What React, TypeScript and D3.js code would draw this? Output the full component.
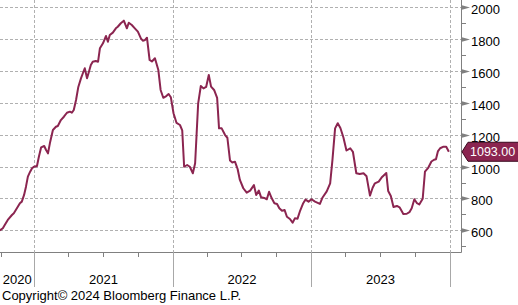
import React from 'react';
import * as d3 from 'd3';

const dates = [
  '2020-10-02','2020-10-10','2020-10-15','2020-10-23','2020-11-03','2020-11-08','2020-11-16','2020-11-24','2020-11-29',
  '2020-12-05','2020-12-10','2020-12-15','2020-12-21','2020-12-26','2020-12-31',
  '2021-01-08','2021-01-13','2021-01-19','2021-01-27','2021-02-01','2021-02-06','2021-02-11','2021-02-19','2021-02-27',
  '2021-03-04','2021-03-12','2021-03-20','2021-03-28','2021-04-05','2021-04-10','2021-04-15','2021-04-21','2021-04-27',
  '2021-05-04','2021-05-09','2021-05-14','2021-05-20','2021-05-25','2021-05-30','2021-06-04','2021-06-12','2021-06-18',
  '2021-06-23','2021-07-01','2021-07-09','2021-07-14','2021-07-19','2021-07-27','2021-08-04','2021-08-09','2021-08-17',
  '2021-08-25','2021-09-02','2021-09-07','2021-09-15','2021-09-23','2021-10-01','2021-10-09','2021-10-14','2021-10-20',
  '2021-10-25','2021-11-01','2021-11-07','2021-11-15','2021-11-24','2021-11-30','2021-12-07','2021-12-15','2021-12-21',
  '2021-12-27',
  '2022-01-03','2022-01-11','2022-01-20','2022-01-26','2022-01-31','2022-02-08','2022-02-15','2022-02-23','2022-03-01',
  '2022-03-05','2022-03-09','2022-03-16','2022-03-23','2022-03-30','2022-04-06','2022-04-12','2022-04-20','2022-04-28',
  '2022-05-03','2022-05-10','2022-05-19','2022-05-25','2022-06-01','2022-06-07','2022-06-14','2022-06-21','2022-06-27',
  '2022-07-06','2022-07-15','2022-07-24','2022-08-03','2022-08-09','2022-08-16','2022-08-22','2022-08-30','2022-09-06',
  '2022-09-12','2022-09-19','2022-09-26','2022-10-03','2022-10-09','2022-10-16','2022-10-23','2022-10-29','2022-11-06',
  '2022-11-13','2022-11-19','2022-11-26','2022-12-03','2022-12-11','2022-12-17','2022-12-25',
  '2023-01-02','2023-01-11','2023-01-24','2023-01-31','2023-02-11','2023-02-20','2023-02-26','2023-03-05','2023-03-12',
  '2023-03-19','2023-03-27','2023-04-04','2023-04-14','2023-04-21','2023-04-30','2023-05-09','2023-05-19','2023-05-27',
  '2023-06-05','2023-06-12','2023-06-18','2023-06-28','2023-07-07','2023-07-18','2023-07-23','2023-07-30','2023-08-06',
  '2023-08-15','2023-08-22','2023-09-01','2023-09-10','2023-09-17','2023-09-23','2023-09-30','2023-10-07','2023-10-13',
  '2023-10-22','2023-10-28','2023-11-06','2023-11-14','2023-11-21','2023-11-26','2023-12-01','2023-12-07','2023-12-16',
  '2023-12-23','2023-12-30',
];

const values = [
  599, 613, 633, 665, 696, 707, 738, 770, 780,
  822, 874, 937, 968, 989, 999,
  1004, 1062, 1121, 1129, 1104, 1083, 1146, 1230, 1250,
  1255, 1292, 1313, 1338, 1345, 1338, 1355, 1418, 1500,
  1554, 1586, 1617, 1554, 1596, 1638, 1658, 1663, 1658,
  1743, 1774, 1820, 1784, 1826, 1841, 1868, 1878, 1900,
  1916, 1868, 1903, 1889, 1868, 1847, 1805, 1790, 1795,
  1809, 1669, 1660, 1680, 1606, 1481, 1432, 1443, 1456,
  1435,
  1335, 1274, 1261, 1227, 999, 1010, 999, 958, 1021,
  1209, 1397, 1506, 1491, 1500, 1575, 1502, 1481, 1431,
  1240, 1240, 1198, 1181, 1038, 1026, 1031, 985, 916,
  864, 836, 849, 884, 822, 849, 807, 803, 795,
  842, 801, 770, 765, 738, 723, 727, 685, 671,
  648, 675, 673, 724, 770, 793, 780,
  795, 780, 766, 806, 844, 895, 1041, 1240, 1272,
  1242, 1183, 1101, 1115, 1093, 958, 953, 958, 939,
  818, 867, 895, 906, 935, 960, 847, 815, 746,
  753, 744, 702, 704, 714, 738, 795, 770, 762,
  798, 968, 994, 1032, 1043, 1046, 1095, 1115, 1125,
  1125, 1093,
];

const yMajorTicks = [600, 800, 1000, 1200, 1400, 1600, 1800, 2000];
const yMinorTicks = [500, 700, 900, 1100, 1300, 1500, 1700, 1900];
const yearTicks = ['2021-01-01', '2022-01-01', '2023-01-01', '2024-01-01'];
const yearLabels = ['2020', '2021', '2022', '2023'];
const lastValueLabel = '1093.00';
const copyrightText = 'Copyright\u00A9 2024 Bloomberg Finance L.P.';

const W = 518;
const H = 305;
const PLOT_R = 461;
const PLOT_B = 252;
const LINE_COLOR = '#8b2550';
const AXIS_COLOR = '#808080';
const GRID_COLOR = '#b0b0b0';
const FONT = '"Liberation Sans", Arial, sans-serif';

export default function App() {
  const parse = d3.timeParse('%Y-%m-%d');
  const data = dates.map((d, i) => ({ date: parse(d) as Date, value: values[i] }));

  const x = d3
    .scaleTime()
    .domain([new Date(2020, 9, 2, 12), new Date(2024, 0, 31)])
    .range([0, PLOT_R]);
  const y = d3.scaleLinear().domain([463.8, 2045.8]).range([PLOT_B, 0]);

  const line = d3
    .line<{ date: Date; value: number }>()
    .x((d) => x(d.date))
    .y((d) => y(d.value));

  const yearDates = yearTicks.map((d) => parse(d) as Date);
  const quarterTicks = d3.timeMonth
    .every(3)!
    .range(new Date(2020, 9, 1), new Date(2024, 1, 1))
    .map((d) => Math.max(0.5, x(d)));

  const bounds = [0, ...yearDates.map((d) => x(d))];
  const labelXs = yearLabels.map((_, i) => Math.max(14, (bounds[i] + bounds[i + 1]) / 2));

  const last = data[data.length - 1];
  const ly = y(last.value);

  return (
    <svg
      width={W}
      height={H}
      style={{ position: 'absolute', left: 0, top: 0, background: '#fff' }}
      fontFamily={FONT}
    >
      <rect x={0} y={0} width={W} height={H} fill="#fff" />
      {yMajorTicks.map((t) => (
        <line
          key={'hg' + t}
          x1={0}
          x2={PLOT_R}
          y1={Math.round(y(t)) + 0.5}
          y2={Math.round(y(t)) + 0.5}
          stroke={GRID_COLOR}
          strokeDasharray="3,2"
          strokeWidth={1}
        />
      ))}
      {yearDates.map((d, i) => (
        <line
          key={'vg' + i}
          x1={Math.round(x(d)) + 0.5}
          x2={Math.round(x(d)) + 0.5}
          y1={0}
          y2={PLOT_B}
          stroke={GRID_COLOR}
          strokeDasharray="3,2"
          strokeWidth={1}
        />
      ))}
      <path d={line(data) || ''} fill="none" stroke={LINE_COLOR} strokeWidth={2} strokeLinejoin="round" />

      <line x1={0} x2={PLOT_R + 0.5} y1={PLOT_B + 0.5} y2={PLOT_B + 0.5} stroke={AXIS_COLOR} strokeWidth={1} />
      {quarterTicks.map((qx, i) => (
        <line
          key={'qt' + i}
          x1={Math.round(qx) + 0.5}
          x2={Math.round(qx) + 0.5}
          y1={PLOT_B}
          y2={PLOT_B + 5}
          stroke={AXIS_COLOR}
          strokeWidth={1}
        />
      ))}
      {yearDates.map((d, i) => (
        <line
          key={'yt' + i}
          x1={Math.round(x(d)) + 0.5}
          x2={Math.round(x(d)) + 0.5}
          y1={PLOT_B}
          y2={287}
          stroke="#a8a8a8"
          strokeWidth={1}
        />
      ))}
      {yearLabels.map((lab, i) => (
        <text key={'yl' + i} x={labelXs[i]} y={284} textAnchor="middle" fontSize={13} fill="#000">
          {lab}
        </text>
      ))}

      <line x1={PLOT_R + 0.5} x2={PLOT_R + 0.5} y1={0} y2={PLOT_B + 0.5} stroke={AXIS_COLOR} strokeWidth={1} />
      {yMinorTicks.map((t) => (
        <line
          key={'mt' + t}
          x1={PLOT_R}
          x2={PLOT_R + 5}
          y1={Math.round(y(t)) + 0.5}
          y2={Math.round(y(t)) + 0.5}
          stroke={AXIS_COLOR}
          strokeWidth={1}
        />
      ))}
      {yMajorTicks.map((t) => {
        const ty = Math.round(y(t)) + 0.5;
        return (
          <g key={'Mt' + t}>
            <polygon points={`${PLOT_R},${ty - 2.5} ${PLOT_R + 9},${ty} ${PLOT_R},${ty + 2.5}`} fill={AXIS_COLOR} />
            <text x={471} y={ty + 6} fontSize={13} fill="#000">
              {t}
            </text>
          </g>
        );
      })}

      <polygon
        points={`${PLOT_R + 1},${ly} ${PLOT_R + 7},${ly - 9.5} ${W + 2},${ly - 9.5} ${W + 2},${ly + 9.5} ${PLOT_R + 7},${ly + 9.5}`}
        fill={LINE_COLOR}
        stroke="#3a0a1e"
        strokeWidth={1}
      />
      <text x={470} y={ly + 4.5} fontSize={12.5} fill="#fff">
        {lastValueLabel}
      </text>

      <text x={2} y={300} fontSize={13} fill="#000">
        {copyrightText}
      </text>
    </svg>
  );
}
